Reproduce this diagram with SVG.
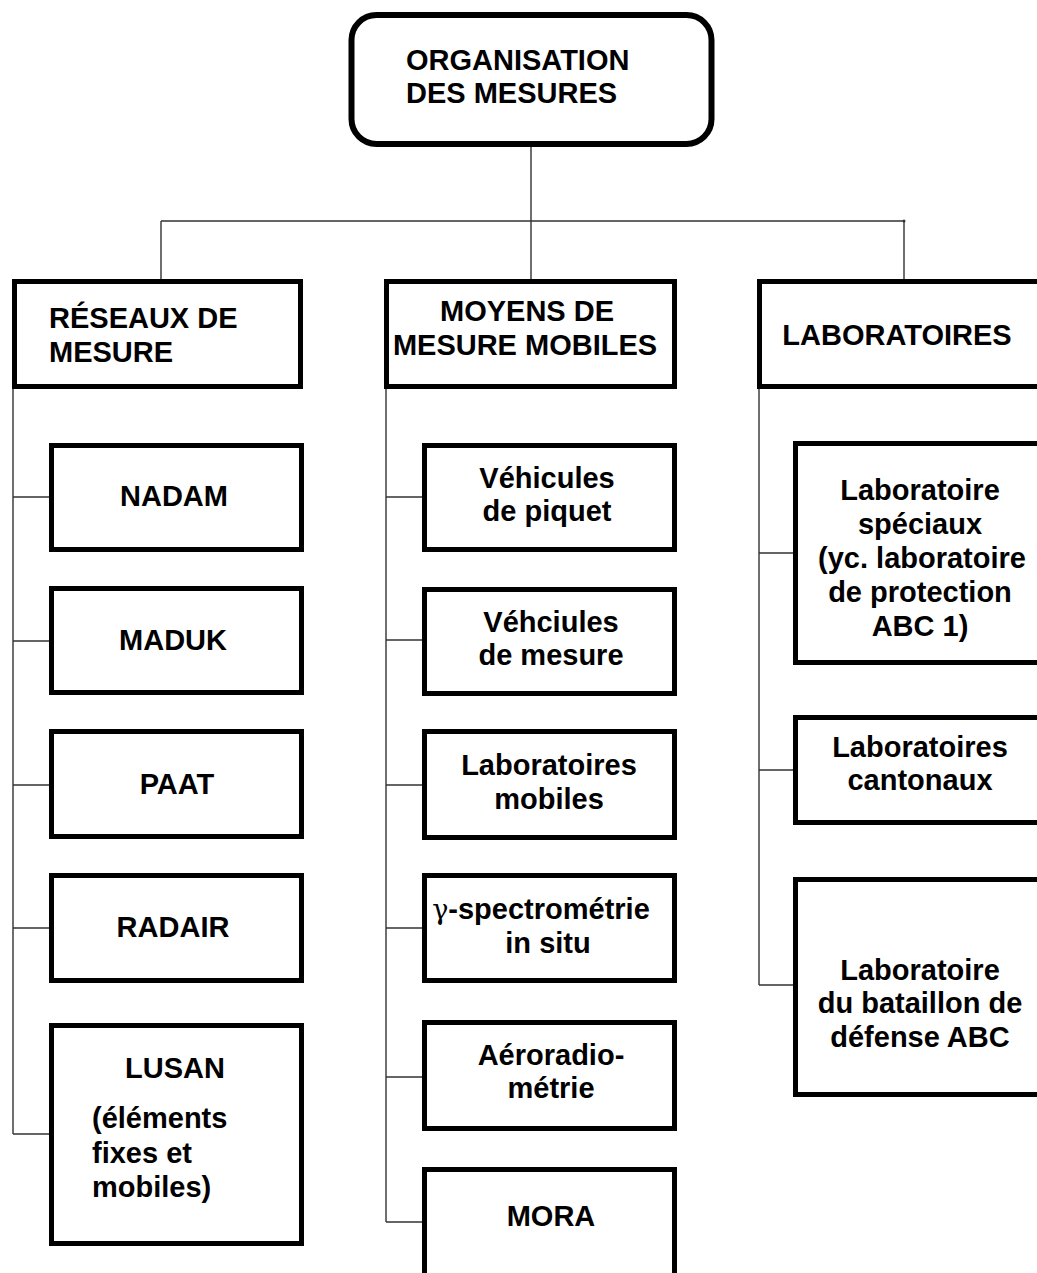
<svg xmlns="http://www.w3.org/2000/svg" width="1037" height="1273" viewBox="0 0 1037 1273">
<style>
.bx{fill:#fff;stroke:#000;stroke-width:5}
.rt{fill:#fff;stroke:#000;stroke-width:6}
.cn{fill:none;stroke:#333;stroke-width:1.4}
text{font-family:"Liberation Sans",Arial,sans-serif;font-weight:bold;font-size:29px;fill:#000}
.c{text-anchor:middle}
</style>
<rect x="0" y="0" width="1037" height="1273" fill="#fff"/>
<g id="connectors">
<path class="cn" d="M531,147V279M161,221H904M161,221V279M904,221V279"/>
<path class="cn" d="M13,389V1134M13,497H49M13,641H49M13,785H49M13,928H49M13,1134H49"/>
<path class="cn" d="M386,389V1222M386,497H422M386,640H422M386,785H422M386,928H422M386,1077H422M386,1222H422"/>
<path class="cn" d="M759,389V985M759,553H793M759,770H793M759,985H793"/>
<circle cx="904" cy="221" r="1.5" fill="#333"/>
</g>
<g id="root">
<rect class="rt" x="351.5" y="15" width="360" height="129" rx="25"/>
<text x="406" y="70">ORGANISATION</text>
<text x="406" y="103">DES MESURES</text>
</g>
<g id="reseaux">
<rect class="bx" x="14.5" y="281.5" width="286" height="105"/>
<text x="49" y="328">RÉSEAUX DE</text>
<text x="49" y="362">MESURE</text>
</g>
<g id="moyens">
<rect class="bx" x="386.5" y="281.5" width="288" height="105"/>
<text class="c" x="527" y="321">MOYENS DE</text>
<text class="c" x="525" y="355">MESURE MOBILES</text>
</g>
<g id="laboratoires">
<rect class="bx" x="759.5" y="281.5" width="290" height="105"/>
<text class="c" x="897" y="345">LABORATOIRES</text>
</g>
<g id="nadam">
<rect class="bx" x="51.5" y="445.5" width="250" height="104"/>
<text class="c" x="174" y="506">NADAM</text>
</g>
<g id="maduk">
<rect class="bx" x="51.5" y="588.5" width="250" height="104"/>
<text class="c" x="173" y="650">MADUK</text>
</g>
<g id="paat">
<rect class="bx" x="51.5" y="731.5" width="250" height="105"/>
<text class="c" x="177" y="794">PAAT</text>
</g>
<g id="radair">
<rect class="bx" x="51.5" y="875.5" width="250" height="105"/>
<text class="c" x="173" y="937">RADAIR</text>
</g>
<g id="lusan">
<rect class="bx" x="51.5" y="1025.5" width="250" height="218"/>
<text class="c" x="175" y="1078">LUSAN</text>
<text x="92" y="1128">(éléments</text>
<text x="92" y="1163">fixes et</text>
<text x="92" y="1197">mobiles)</text>
</g>
<g id="vehicules-piquet">
<rect class="bx" x="424.5" y="445.5" width="250" height="104"/>
<text class="c" x="547" y="488">Véhicules</text>
<text class="c" x="547" y="521">de piquet</text>
</g>
<g id="vehicules-mesure">
<rect class="bx" x="424.5" y="589.5" width="250" height="104"/>
<text class="c" x="551" y="632">Véhciules</text>
<text class="c" x="551" y="665">de mesure</text>
</g>
<g id="labo-mobiles">
<rect class="bx" x="424.5" y="731.5" width="250" height="106"/>
<text class="c" x="549" y="775">Laboratoires</text>
<text class="c" x="549" y="809">mobiles</text>
</g>
<g id="gamma">
<rect class="bx" x="424.5" y="875.5" width="250" height="105"/>
<text class="c" x="541" y="919"><tspan font-weight="normal" font-family="'DejaVu Serif',serif" font-size="27">γ</tspan>-spectrométrie</text>
<text class="c" x="548" y="953">in situ</text>
</g>
<g id="aeroradio">
<rect class="bx" x="424.5" y="1022.5" width="250" height="106"/>
<text class="c" x="551" y="1065">Aéroradio-</text>
<text class="c" x="551" y="1098">métrie</text>
</g>
<g id="mora">
<rect class="bx" x="424.5" y="1169.5" width="250" height="130"/>
<text class="c" x="551" y="1226">MORA</text>
</g>
<g id="labo-speciaux">
<rect class="bx" x="795.5" y="443.5" width="250" height="219"/>
<text class="c" x="920" y="500">Laboratoire</text>
<text class="c" x="920" y="534">spéciaux</text>
<text class="c" x="922" y="568">(yc. laboratoire</text>
<text class="c" x="920" y="602">de protection</text>
<text class="c" x="920" y="636">ABC 1)</text>
</g>
<g id="labo-cantonaux">
<rect class="bx" x="795.5" y="717.5" width="250" height="105"/>
<text class="c" x="920" y="757">Laboratoires</text>
<text class="c" x="920" y="790">cantonaux</text>
</g>
<g id="labo-bataillon">
<rect class="bx" x="795.5" y="879.5" width="250" height="215"/>
<text class="c" x="920" y="980">Laboratoire</text>
<text class="c" x="920" y="1013">du bataillon de</text>
<text class="c" x="920" y="1047">défense ABC</text>
</g>
</svg>
